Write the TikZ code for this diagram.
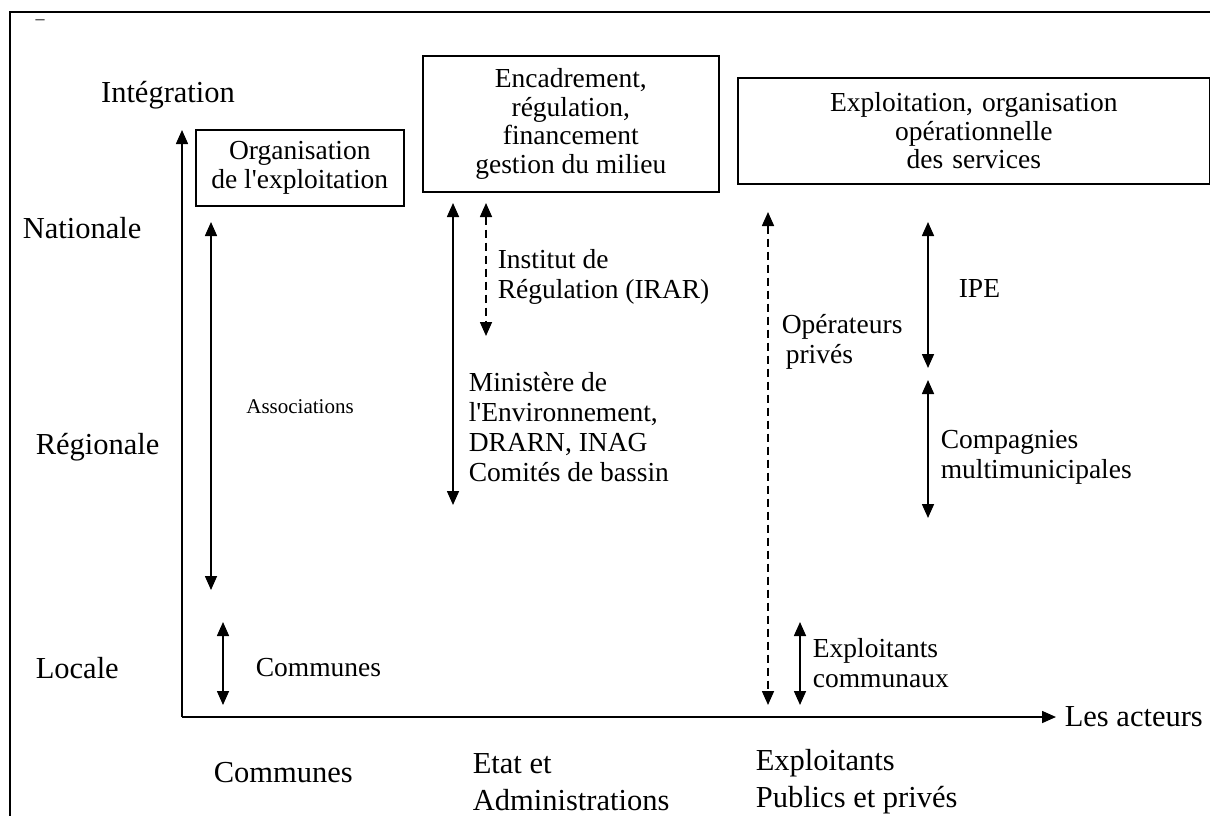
\documentclass[tikz,border=0pt]{standalone}
\usepackage{fontspec}
\setmainfont{Liberation Serif}[Ligatures=TeXOff]
\usetikzlibrary{arrows.meta}
\begin{document}
\begin{tikzpicture}[x=1pt,y=-1pt,
  line width=1.6pt,
  tipend/.style={-{Triangle[width=12pt,length=14pt]}},
  twoway/.style={{Triangle[width=12pt,length=14pt]}-{Triangle[width=12pt,length=14pt]}},
  twowaydash/.style={twoway,dash pattern=on 8pt off 5pt},
  axislbl/.style={font=\fontsize{30.5}{37}\selectfont, inner sep=0pt, align=left},
  lbl/.style={font=\fontsize{27.5}{30}\selectfont, inner sep=0pt, align=left, anchor=west},
  boxtxt/.style={draw, line width=1.6pt, font=\fontsize{27.5}{28.5}\selectfont, align=center, inner sep=0pt, anchor=north west},
]
\useasboundingbox (0,0) rectangle (1210,816);

% outer frame (open at right and bottom)
\draw[line width=1.4pt] (10,816) -- (10,12) -- (1210,12);
\node[font=\fontsize{18}{18}\selectfont, inner sep=0pt] (dash) at (40,22) {–};

% axes
\coordinate (O) at (182,717);
\coordinate (ytop) at (182,130);
\coordinate (xend) at (1056,717);
\draw[tipend] (O) -- (ytop);
\draw[tipend] (O) -- (xend);
\node[axislbl] (integ) at (168,95) {Intégration};
\node[axislbl, anchor=west] (acteurs) at (1064,717) {Les acteurs};

% levels
\node[axislbl, anchor=west] (nat) at (22,228) {Nationale};
\node[axislbl, anchor=west] (reg) at (35,447) {Régionale};
\node[axislbl, anchor=west] (loc) at (35,668) {Locale};

% actor categories
\node[axislbl, anchor=west] (communesB) at (213,773) {Communes};
\node[axislbl, anchor=west] (etat) at (472,782) {Etat et\\Administrations};
\node[axislbl, anchor=west] (exploitB) at (755,782) {Exploitants\\Publics et privés};

% function boxes
\node[boxtxt, minimum width=208pt, minimum height=76pt] (b1) at (195,129)
  {Organisation\\de l'exploitation};
\node[boxtxt, minimum width=296pt, minimum height=136pt] (b2) at (422,55)
  {Encadrement,\\régulation,\\financement\\gestion du milieu};
\node[boxtxt, minimum width=472pt, minimum height=106pt, text width=472pt] (b3) at (737,77)
  {Exploitation, organisation\\opérationnelle\\des services};

% communes
\coordinate (a1t) at (211,222); \coordinate (a1b) at (211,590);
\draw[twoway] (a1t) -- (a1b);
\node[font=\fontsize{21}{24}\selectfont, inner sep=0pt] (assoc) at (300,407) {Associations};
\coordinate (a2t) at (223,622); \coordinate (a2b) at (223,705);
\draw[twoway] (a2t) -- (a2b);
\node[lbl] (communes) at (255,668) {Communes};

% state and administrations
\coordinate (a3t) at (453,203); \coordinate (a3b) at (453,505);
\draw[twoway] (a3t) -- (a3b);
\coordinate (a4t) at (486,203); \coordinate (a4b) at (486,336);
\draw[twowaydash] (a4t) -- (a4b);
\node[lbl] (irar) at (497,277) {Institut de\\Régulation (IRAR)};
\node[lbl] (minist) at (468,427) {Ministère de\\l'Environnement,\\DRARN, INAG\\Comités de bassin};

% operators
\coordinate (a5t) at (768,212); \coordinate (a5b) at (768,705);
\draw[twowaydash] (a5t) -- (a5b);
\node[lbl] (oper) at (781,342) {Opérateurs\\\hspace*{4pt}privés};
\coordinate (a6t) at (928,222); \coordinate (a6b) at (928,368);
\draw[twoway] (a6t) -- (a6b);
\node[lbl] (ipe) at (958,288) {IPE};
\coordinate (a7t) at (928,380); \coordinate (a7b) at (928,518);
\draw[twoway] (a7t) -- (a7b);
\node[lbl] (compag) at (940,457) {Compagnies\\multimunicipales};
\coordinate (a8t) at (800,622); \coordinate (a8b) at (800,705);
\draw[twoway] (a8t) -- (a8b);
\node[lbl] (explc) at (812,663) {Exploitants\\communaux};
\end{tikzpicture}
\end{document}
